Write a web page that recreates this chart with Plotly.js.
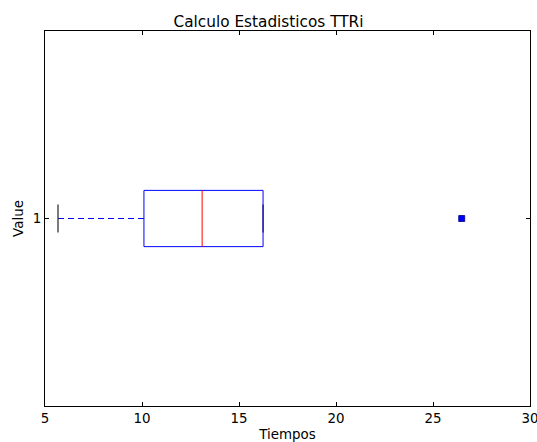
<!DOCTYPE html>
<html>
<head>
<meta charset="utf-8">
<script src="https://cdn.plot.ly/plotly-3.0.1.min.js"></script>
<style>html,body{margin:0;padding:0;background:#fff;}#chart{width:537px;height:442px;}</style>
</head>
<body>
<div id="chart"></div>
<script>
// Data
const category = 1;
const q1 = 10.1;
const median = 13.1;
const q3 = 16.24;
const lowerWhisker = 5.67;
const upperWhisker = 16.24;
const outliers = [26.48];
const xTickVals = [5, 10, 15, 20, 25, 30];
const yTickLabels = ['1'];

const halfBox = 0.075;
const halfCap = 0.0375;

const traces = [
  {x: [lowerWhisker, q1], y: [category, category], mode: 'lines', line: {color: '#0000ff', width: 1, dash: '6px,4px'}, hoverinfo: 'skip'},
  {x: [q3, upperWhisker], y: [category, category], mode: 'lines', line: {color: '#0000ff', width: 1, dash: '6px,4px'}, hoverinfo: 'skip'},
  {x: [lowerWhisker, lowerWhisker], y: [category - halfCap, category + halfCap], mode: 'lines', line: {color: '#333333', width: 1.3}, hoverinfo: 'skip'},
  {x: [upperWhisker, upperWhisker], y: [category - halfCap, category + halfCap], mode: 'lines', line: {color: '#333333', width: 1.3}, hoverinfo: 'skip'},
  {x: [q1, q3, q3, q1, q1], y: [category - halfBox, category - halfBox, category + halfBox, category + halfBox, category - halfBox], mode: 'lines', line: {color: '#0000ff', width: 1}, hoverinfo: 'skip'},
  {x: [median, median], y: [category - halfBox, category + halfBox], mode: 'lines', line: {color: '#ff0000', width: 1}, hoverinfo: 'skip'},
  {x: outliers, y: outliers.map(() => category), mode: 'markers', marker: {symbol: 'square', size: 6, color: '#0000ff', line: {color: '#000080', width: 0.8}}, hoverinfo: 'skip'}
];

const font = {family: 'DejaVu Sans, sans-serif', size: 13.4, color: '#000'};

const layout = {
  width: 537, height: 442,
  margin: {l: 45, r: 7, t: 31, b: 36},
  paper_bgcolor: '#fff', plot_bgcolor: '#fff',
  showlegend: false,
  font: font,
  title: {text: 'Calculo Estadisticos TTRi', font: {family: 'DejaVu Sans, sans-serif', size: 15.3, color: '#000'}, x: 0.5, xanchor: 'center', y: 0.951, yanchor: 'middle'},
  xaxis: {
    range: [5, 30], tickvals: xTickVals, ticktext: xTickVals.map(String),
    showgrid: false, zeroline: false, showline: true, linecolor: '#000', linewidth: 1, mirror: 'allticks',
    ticks: 'inside', ticklen: 4, tickcolor: '#000', tickfont: font, ticklabeloverflow: 'allow',
    title: {text: 'Tiempos', font: font, standoff: 8}
  },
  yaxis: {
    range: [0.5, 1.5], tickvals: [category], ticktext: yTickLabels,
    showgrid: false, zeroline: false, showline: true, linecolor: '#000', linewidth: 1, mirror: 'allticks',
    ticks: 'inside', ticklen: 4, tickcolor: '#000', tickfont: font,
    title: {text: 'Value', font: font, standoff: 6}
  }
};

Plotly.newPlot('chart', traces, layout, {staticPlot: true, displayModeBar: false});
</script>
</body>
</html>
